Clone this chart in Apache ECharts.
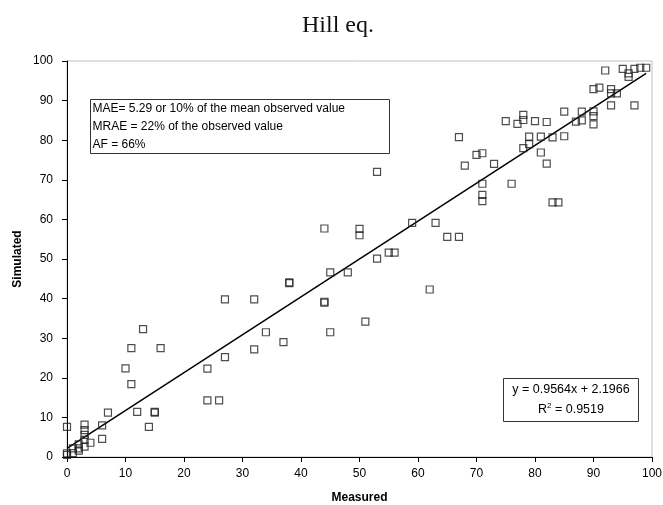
<!DOCTYPE html>
<html lang="en">
<head>
  <meta charset="UTF-8">
  <title>Hill eq.</title>
  <style>
    body { margin: 0; padding: 0; background: #fff; }
    #chart { width: 663px; height: 505px; }
  </style>
</head>
<body>
  <div id="chart"></div>
  <script src="https://cdn.jsdelivr.net/npm/echarts@6/dist/echarts.min.js"></script>
  <script>
    // measured vs simulated
    var measured = [0, 0, 0, 1, 1, 2, 2, 2, 3, 3, 3, 3, 3, 4, 6, 6, 7,
      10, 11, 11, 12, 13, 14, 15, 15, 16,
      24, 24, 26, 27, 27, 32, 32, 34, 37, 38, 38,
      44, 44, 44, 45, 45, 48,
      50, 50, 51, 53, 53, 55, 56, 59,
      62, 63, 65, 67, 67, 68,
      70, 71, 71, 71, 71, 73, 75, 76, 77,
      78, 78, 78, 79, 79, 80, 81, 81, 82, 82, 83, 83, 84, 85, 85,
      87, 88, 88, 90, 90, 90, 90, 91, 92, 93, 93, 93, 94, 95, 96, 96, 97, 97, 98, 99];
    var simulated = [0.5, 0.9, 7.6, 1.0, 2.2, 1.6, 2.2, 3.2, 2.6, 4.3, 5.6, 6.8, 8.2, 3.6, 4.6, 8.0, 11.2,
      22.4, 27.5, 18.4, 11.4, 32.3, 7.6, 11.2, 11.4, 27.5,
      22.3, 14.3, 14.3, 39.8, 25.2, 39.8, 27.2, 31.5, 29.0, 43.9, 44.1,
      57.7, 39.0, 39.2, 46.6, 31.5, 46.6,
      57.6, 56.0, 34.2, 50.1, 72.0, 51.6, 51.6, 59.1,
      42.3, 59.1, 55.6, 55.6, 80.8, 73.6,
      76.3, 76.7, 69.0, 66.2, 64.6, 74.0, 84.8, 69.0, 84.1,
      86.4, 85.1, 78.0, 79.0, 80.9, 84.8, 80.9, 76.9, 84.6, 74.1, 80.7, 64.3, 64.3, 81.0, 87.2,
      84.7, 85.0, 87.2, 87.3, 86.1, 84.0, 92.9, 93.3, 97.6, 92.9, 91.8, 88.8, 91.8, 98.0, 96.9, 96.0, 98.0, 88.8, 98.3, 98.3];

    // linear trendline from the reference
    var slope = 0.9564;
    var intercept = 2.1966;
    var r2 = '0.9519';
    var fitRange = [0, 99];

    var statsLines = [
      'MAE= 5.29 or 10% of the mean observed value',
      'MRAE = 22% of the observed value',
      'AF = 66%'
    ];

    var points = measured.map(function (m, i) { return [m, simulated[i]]; });
    var fitLine = fitRange.map(function (x) { return [x, slope * x + intercept]; });

    var chart = echarts.init(document.getElementById('chart'));

    var axisText = { color: '#000', fontFamily: 'Arial, Liberation Sans, sans-serif', fontSize: 12 };
    var nameText = { color: '#000', fontFamily: 'Arial, Liberation Sans, sans-serif', fontSize: 12, fontWeight: 'bold' };

    var option = {
      animation: false,
      title: {
        text: 'Hill eq.',
        left: 297,
        top: 9,
        textStyle: { fontFamily: 'Liberation Serif, Times New Roman, serif', fontSize: 24, fontWeight: 'normal', color: '#111' }
      },
      grid: {
        left: 67, right: 11, top: 61, bottom: 48,
        outerBoundsMode: 'none',
        show: true, borderColor: '#c0c0c0', borderWidth: 1, backgroundColor: '#fff'
      },
      xAxis: {
        type: 'value', min: 0, max: 100, interval: 10,
        name: 'Measured', nameLocation: 'middle', nameGap: 35, nameMoveOverlap: false,
        nameTextStyle: nameText,
        axisLine: { show: true, lineStyle: { color: '#000', width: 1 } },
        axisTick: { show: true, inside: false, length: 5, lineStyle: { color: '#000' } },
        axisLabel: Object.assign({ margin: 11 }, axisText),
        splitLine: { show: false }
      },
      yAxis: {
        type: 'value', min: 0, max: 100, interval: 10,
        name: 'Simulated', nameLocation: 'middle', nameGap: 43, nameRotate: 90, nameMoveOverlap: false,
        nameTextStyle: nameText,
        axisLine: { show: true, lineStyle: { color: '#000', width: 1 } },
        axisTick: { show: true, inside: false, length: 5, lineStyle: { color: '#000' } },
        axisLabel: Object.assign({ margin: 14 }, axisText),
        splitLine: { show: false }
      },
      series: [
        {
          type: 'line',
          data: fitLine,
          symbol: 'none',
          lineStyle: { color: '#000', width: 1.5 },
          z: 2
        },
        {
          type: 'scatter',
          data: points,
          symbol: 'rect',
          symbolSize: 7,
          itemStyle: { color: 'transparent', borderColor: '#222', borderWidth: 1.2 },
          z: 3
        }
      ],
      graphic: [
        {
          type: 'group', left: 90, top: 99,
          children: [
            { type: 'rect', shape: { x: 0, y: 0, width: 299, height: 54 },
              style: { fill: '#fff', stroke: '#333', lineWidth: 1 } },
            { type: 'text', left: 2, top: 0,
              style: { text: statsLines.join('\n'), lineHeight: 18, fill: '#000',
                font: '12px Arial, "Liberation Sans", sans-serif' } }
          ]
        },
        {
          type: 'group', left: 503, top: 378,
          children: [
            { type: 'rect', shape: { x: 0, y: 0, width: 135, height: 43 },
              style: { fill: '#fff', stroke: '#333', lineWidth: 1 } },
            { type: 'text', x: 67.5, y: 11, style: {
                text: 'y = ' + slope + 'x + ' + intercept, fill: '#000', align: 'center', verticalAlign: 'middle',
                font: '12.5px Arial, "Liberation Sans", sans-serif' } },
            { type: 'text', x: 67.5, y: 31, style: {
                text: '{n|R}{s|2}{n| = ' + r2 + '}', align: 'center', verticalAlign: 'middle',
                rich: {
                  n: { fontSize: 12.5, fontFamily: 'Arial, Liberation Sans, sans-serif', color: '#000' },
                  s: { fontSize: 8, fontFamily: 'Arial, Liberation Sans, sans-serif', color: '#000', verticalAlign: 'top', padding: [0, 0, 8, 0] }
                } } }
          ]
        }
      ]
    };

    chart.setOption(option);
  </script>
</body>
</html>
